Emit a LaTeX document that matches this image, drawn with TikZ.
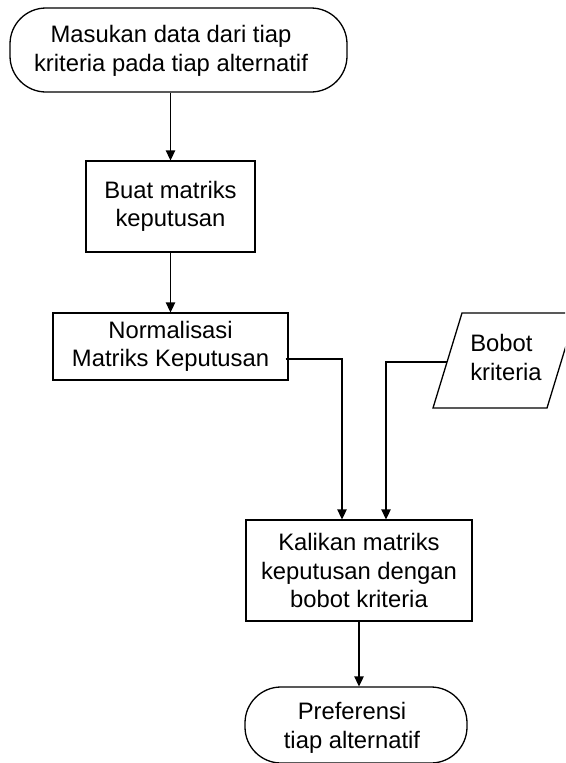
\documentclass[tikz,border=0pt]{standalone}
\usepackage{fontspec}
\setmainfont{Liberation Sans}
\usetikzlibrary{arrows.meta,calc}
\begin{document}
\begin{tikzpicture}[x=1pt,y=-1pt,
  line width=1.3pt,
  label text/.style={inner sep=0pt, align=center, font=\fontsize{23.8}{28.5}\selectfont},
  procbox/.style={label text, draw=black, rectangle},
  terminal/.style={draw=black, rectangle, rounded corners=36pt, inner sep=0pt},
  flow/.style={draw=black, -{Triangle[length=10pt,width=9.5pt]}},
]
\useasboundingbox (0,0) rectangle (565,763);
\clip (0,0) rectangle (565,763);

% start terminal
\node[terminal, minimum width=337pt, minimum height=84pt] (start) at (178.5,50) {};
\node[label text] (startText) at (171,51) {Masukan data dari tiap\\kriteria pada tiap alternatif};

% process boxes
\node[procbox, minimum width=169pt, minimum height=91pt] (buat) at (170.5,206.5) {Buat matriks\\keputusan};
\node[procbox, minimum width=235pt, minimum height=67pt] (norm) at (170.5,346.5) {Normalisasi\\Matriks Keputusan};
\node[procbox, minimum width=226pt, minimum height=101pt] (kal) at (359,570.5) {Kalikan matriks\\keputusan dengan\\bobot kriteria};

% input: weights (parallelogram)
\draw[black] (462,313) -- (576,313) -- (547,408) -- (433,408) -- cycle;
\node[label text, align=left] (bobot) at (506,357.5) {Bobot\\kriteria};
\coordinate (bobotIn) at (447,362);

% end terminal
\node[terminal, minimum width=222pt, minimum height=76pt] (pref) at (356,725) {};
\node[label text] (prefText) at (352,728) {Preferensi\\tiap alternatif};

% connectors
\draw[flow] (buat.north |- start.south) -- (buat.north);
\draw[flow] (buat.south) -- (buat.south |- norm.north);
\draw[flow] ($(norm.east)+(-3,12.5)$) -| ($(kal.north)+(-17,0)$);
\draw[flow] (bobotIn) -| ($(kal.north)+(27,0)$);
\draw[flow] (kal.south) -- (kal.south |- pref.north);
\end{tikzpicture}
\end{document}
